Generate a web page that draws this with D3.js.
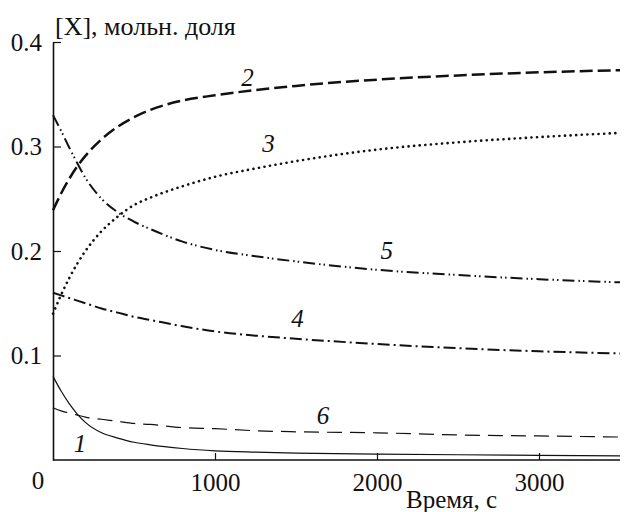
<!DOCTYPE html>
<html lang="ru">
<head>
<meta charset="UTF-8">
<title>[X], мольн. доля</title>
<script src="https://d3js.org/d3.v7.min.js"></script>
<style>
  body { margin: 0; background: #fff; }
</style>
</head>
<body>
<div id="chart"></div>
<script>
// time, s
const time = [0, 50, 100, 150, 200, 300, 400, 500, 600, 800, 1000, 1250, 1500, 2000, 2500, 3000, 3500];
// mole fractions
const curve1 = [0.080, 0.066, 0.054, 0.044, 0.036, 0.026, 0.021, 0.017, 0.0145, 0.011, 0.0088, 0.0075, 0.0066, 0.0057, 0.005, 0.0045, 0.004];
const curve2 = [0.239, 0.255, 0.269, 0.281, 0.291, 0.307, 0.319, 0.328, 0.335, 0.344, 0.349, 0.354, 0.358, 0.364, 0.368, 0.371, 0.373];
const curve3 = [0.140, 0.158, 0.174, 0.188, 0.200, 0.219, 0.233, 0.244, 0.251, 0.262, 0.271, 0.279, 0.286, 0.297, 0.304, 0.309, 0.313];
const curve4 = [0.160, 0.1575, 0.155, 0.1525, 0.150, 0.145, 0.141, 0.137, 0.134, 0.128, 0.123, 0.119, 0.116, 0.111, 0.107, 0.104, 0.102];
const curve5 = [0.330, 0.315, 0.299, 0.284, 0.270, 0.250, 0.237, 0.228, 0.221, 0.209, 0.201, 0.195, 0.190, 0.182, 0.177, 0.173, 0.170];
const curve6 = [0.050, 0.047, 0.045, 0.043, 0.041, 0.039, 0.037, 0.035, 0.034, 0.031, 0.030, 0.028, 0.027, 0.026, 0.024, 0.023, 0.022];

const xTicks = [1000, 2000, 3000];
const yTicks = [0.1, 0.2, 0.3, 0.4];

// curve number labels: [label, time, value]
const curveLabels = [["2", 1200, 0.366], ["3", 1330, 0.303], ["5", 2060, 0.201],
                     ["4", 1510, 0.136], ["6", 1667, 0.043], ["1", 167, 0.016]];

const FONT = '"Liberation Serif", "Times New Roman", serif';
const FS = 25;
const width = 626, height = 512;

const svg = d3.select("#chart").append("svg")
    .attr("width", width)
    .attr("height", height)
    .attr("font-family", FONT);

const x = d3.scaleLinear().domain([0, 3500]).range([53, 620]);
const y = d3.scaleLinear().domain([0, 0.4]).range([460, 42]);

// axes (ticks point inward)
const yAxis = svg.append("g")
    .attr("transform", `translate(${x(0)},0)`)
    .call(d3.axisLeft(y).tickValues(yTicks).tickFormat(d3.format(".1f"))
        .tickSizeInner(-8).tickSizeOuter(0).tickPadding(11));
const xAxis = svg.append("g")
    .attr("transform", `translate(0,${y(0)})`)
    .call(d3.axisBottom(x).tickValues(xTicks).tickFormat(d3.format("d"))
        .tickSizeInner(-7).tickSizeOuter(0).tickPadding(13));

[yAxis, xAxis].forEach(g => {
  g.attr("font-family", FONT).attr("font-size", FS);
  g.select(".domain").attr("stroke", "#111").attr("stroke-width", 1.6);
  g.selectAll(".tick line").attr("stroke", "#111").attr("stroke-width", 1.2);
  g.selectAll(".tick text").attr("fill", "#111");
});
xAxis.select(".domain").attr("d", `M${x(0)},0H${x(3500)}`);

// "0" at the origin
svg.append("text")
    .attr("x", x(0) - 15).attr("y", y(0) + 29)
    .attr("text-anchor", "middle").attr("font-size", FS).attr("fill", "#111")
    .text("0");

// axis titles
svg.append("text")
    .attr("x", 55).attr("y", 35).attr("font-size", 26).attr("fill", "#111")
    .text("[X], мольн. доля");
svg.append("text")
    .attr("x", 406).attr("y", 508).attr("font-size", FS).attr("fill", "#111")
    .text("Время, с");

// curves
const series = [
  { values: curve1, width: 1.2, dash: null },
  { values: curve6, width: 1.2, dash: "15,8" },
  { values: curve4, width: 2, dash: "12,4,2,4" },
  { values: curve5, width: 2, dash: "12,4,1.5,3,1.5,4" },
  { values: curve3, width: 2.6, dash: "0.1,5.5", cap: "round" },
  { values: curve2, width: 2.5, dash: "13,5" }
];

const line = d3.line()
    .x((d, i) => x(time[i]))
    .y(d => y(d))
    .curve(d3.curveMonotoneX);

svg.selectAll(".curve")
  .data(series)
  .enter().append("path")
    .attr("class", "curve")
    .attr("d", d => line(d.values))
    .attr("fill", "none")
    .attr("stroke", "#111")
    .attr("stroke-width", d => d.width)
    .attr("stroke-dasharray", d => d.dash)
    .attr("stroke-linecap", d => d.cap || "butt");

// curve numbers
svg.selectAll(".lbl")
  .data(curveLabels)
  .enter().append("text")
    .attr("class", "lbl")
    .attr("x", d => x(d[1]))
    .attr("y", d => y(d[2]))
    .attr("dy", "0.35em")
    .attr("text-anchor", "middle")
    .attr("font-size", FS)
    .attr("font-style", "italic")
    .attr("fill", "#111")
    .text(d => d[0]);
</script>
</body>
</html>
